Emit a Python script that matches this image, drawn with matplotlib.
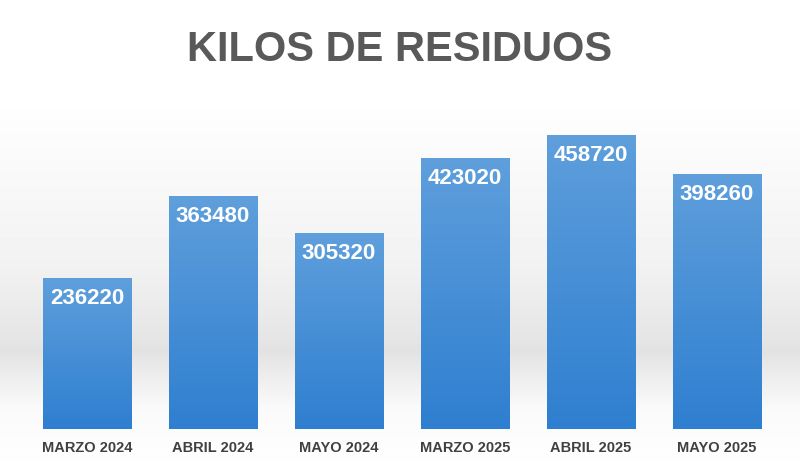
import numpy as np
import matplotlib.pyplot as plt
from matplotlib.colors import LinearSegmentedColormap

plt.rcParams['font.family'] = ['Liberation Sans', 'DejaVu Sans']

categorias = ["MARZO 2024", "ABRIL 2024", "MAYO 2024", "MARZO 2025", "ABRIL 2025", "MAYO 2025"]
kilos = [236220, 363480, 305320, 423020, 458720, 398260]

fig = plt.figure(figsize=(8, 4.77), dpi=100)

# fondo con banda gris degradada
bg = fig.add_axes([0, 0, 1, 1], zorder=0)
filas = np.linspace(0, 1, 477)
tono = np.interp(filas, [0, 0.2, 0.55, 0.74, 0.86, 1],
                 [1.0, 1.0, 0.95, 0.89, 0.98, 1.0])
img = np.repeat(tono[:, None], 10, axis=1)
bg.imshow(img, cmap="gray", vmin=0, vmax=1, aspect="auto", extent=[0, 1, 1, 0])
bg.set_xlim(0, 1); bg.set_ylim(1, 0)
bg.axis("off")

ax = fig.add_axes([0.03, 0.0985, 0.945, 0.692], zorder=1)
ax.patch.set_alpha(0)
x = np.arange(len(categorias))
barras = ax.bar(x, kilos, width=0.7, color="none")
ax.set_xlim(-0.5, len(categorias) - 0.5)
ax.set_ylim(0, 515000)

cmap = LinearSegmentedColormap.from_list("azul", ["#2f7fd0", "#5f9fdc"])
grad = np.linspace(0, 1, 256)[:, None]
for b, v in zip(barras, kilos):
    x0 = b.get_x()
    im = ax.imshow(grad, cmap=cmap, aspect="auto", origin="lower",
                   extent=[x0, x0 + b.get_width(), 0, v], zorder=2)
    im.set_clip_path(b)
    ax.text(b.get_x() + b.get_width() / 2, v - 14000, f"{v}", ha="center", va="top",
            color="white", fontsize=16, fontweight="bold", zorder=3)

ax.set_xticks(x)
ax.set_xticklabels(categorias, fontsize=10.5, fontweight="bold", color="#404040")
ax.tick_params(axis="x", length=0, pad=8)
ax.set_yticks([])
for s in ax.spines.values():
    s.set_visible(False)

fig.text(0.5, 0.895, "KILOS DE RESIDUOS", ha="center", va="center",
         fontsize=30, fontweight="bold", color="#595959")

fig.savefig("out.png", dpi=100)
